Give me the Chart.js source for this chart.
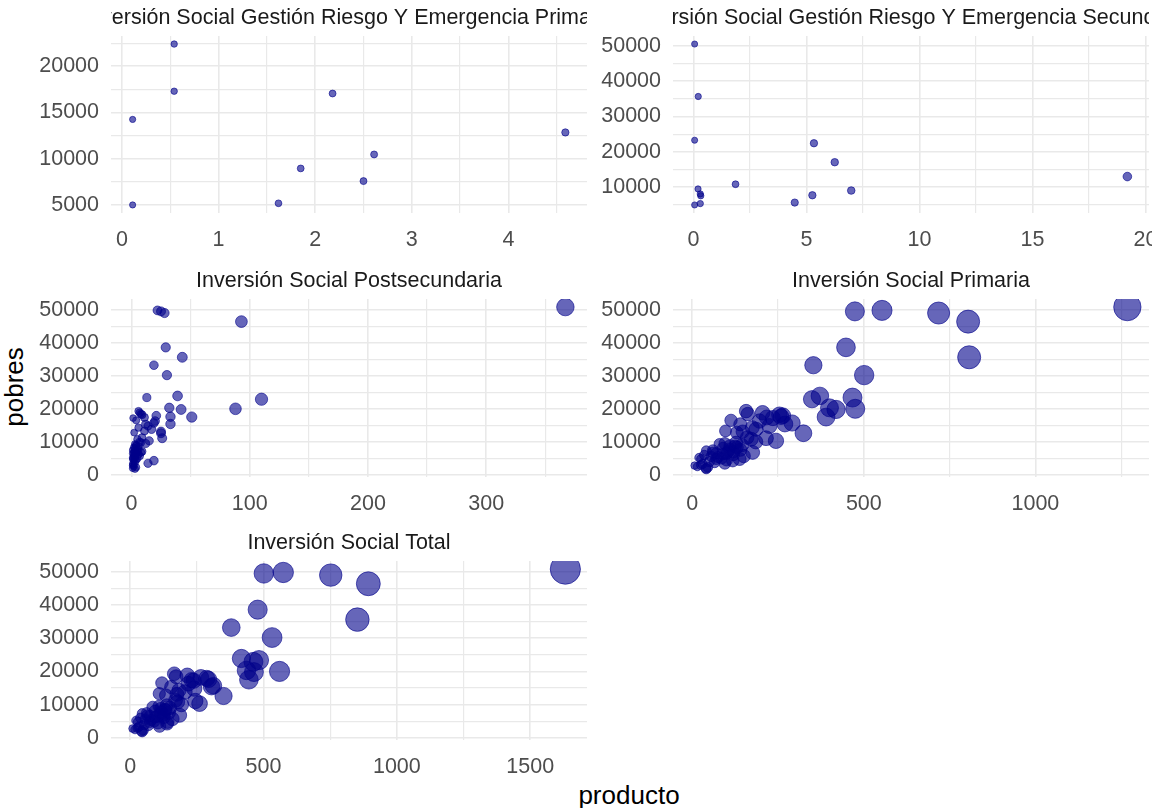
<!DOCTYPE html>
<html>
<head>
<meta charset="utf-8">
<script src="https://cdn.jsdelivr.net/npm/chart.js@4.4.0/dist/chart.umd.min.js"></script>
<style>
  body { margin: 0; background: #fff; width: 1152px; height: 808px; overflow: hidden; position: relative;
         font-family: "Liberation Sans", Arial, sans-serif; }
  canvas { position: absolute; }
  .axis-title { position: absolute; font-size: 26px; color: #000; white-space: nowrap;
                transform: translate(-50%, -50%); }
  #ytitle { left: 14px; top: 387px; transform: translate(-50%, -50%) rotate(-90deg); }
  #xtitle { left: 629px; top: 795px; }
</style>
</head>
<body>
<div class="axis-title" id="ytitle">pobres</div>
<div class="axis-title" id="xtitle">producto</div>
<script>
// Gestión Riesgo y Emergencia - Primaria
const gestionPrimX = [0.11, 0.11, 0.54, 0.54, 1.62, 1.85, 2.18, 2.50, 2.61, 4.59];
const gestionPrimY = [14250, 5000, 22400, 17300, 5180, 8950, 17050, 7580, 10460, 12840];

// Gestión Riesgo y Emergencia - Secundaria
const gestionSecX = [0.05, 0.21, 0.05, 1.86, 0.20, 0.30, 0.32, 0.30, 0.05, 4.48, 5.26, 5.33, 6.25, 6.98, 19.2];
const gestionSecY = [50570, 35680, 23270, 10770, 9430, 8010, 7500, 5280, 4890, 5570, 7640, 22410, 17020, 8980, 12950];

// pobres por municipio (mismo orden para postsecundaria, primaria y total)
const pobres = [50800, 49500, 49800, 49000, 46400, 38600, 35600, 33200, 30200, 23900, 23400, 22900, 20000, 19800, 20300, 17500, 12600,
  18800, 18200, 19300, 18400, 17900, 17400, 17200, 17600, 16500, 16300, 15700, 15400, 15300, 14800, 14300, 13800, 13300, 13100, 12800, 11300,
  11100, 10800, 10300,
  9800, 9500, 9300, 8800, 8300, 7800, 7500, 7300, 7000, 6800, 6800, 6500, 6300, 6000, 5700, 5400, 5200, 4800, 4800, 4800,
  4300, 4000, 3500, 3300, 2800, 2500, 2000, 1800,
  9000, 8600, 8100, 7600, 7100, 6600, 6200, 5600, 5000, 4500, 3800, 3000, 2300, 10000];

const postsecundaria = [367, 25, 22, 28, 93, 29, 43, 19, 30, 39, 13, 110, 88, 42, 32, 51, 25,
  7, 9, 6, 8, 21, 11, 1.4, 33, 4, 20, 19, 33, 12, 14, 6, 17, 11, 25, 2.3, 9,
  26, 5, 15,
  8, 12, 3, 4, 2, 6, 1, 3, 5, 8, 2, 1, 4, 2, 7, 3, 1, 2, 1, 3,
  19, 2, 14, 1, 1, 2, 1, 3,
  4, 6, 3, 5, 9, 4, 6, 2, 5, 4, 3, 2, 4, 7];

const primaria = [1268, 474, 553, 718, 804, 448, 807, 353, 501, 372, 467, 349, 475, 419, 400, 390, 324,
  205, 254, 157, 162, 264, 217, 235, 259, 113, 196, 291, 270, 140, 225, 175, 186, 97, 147, 130, 160,
  215, 172, 244,
  128, 95, 80, 110, 130, 109, 60, 41, 120, 176, 60, 100, 89, 35, 150, 75, 20, 26, 138, 70,
  118, 50, 95, 30, 7, 15, 40, 41,
  145, 125, 90, 140, 105, 70, 120, 55, 85, 100, 65, 25, 45, 185];

const total = [1632, 501, 574, 752, 893, 478, 852, 379, 532, 417, 483, 462, 560, 464, 436, 445, 350,
  214, 265, 165, 172, 287, 230, 238, 294, 119, 218, 312, 305, 154, 240, 183, 205, 109, 175, 134, 170,
  244, 178, 260,
  137, 108, 84, 115, 133, 116, 62, 45, 126, 185, 63, 102, 94, 38, 158, 79, 22, 29, 140, 74,
  138, 53, 110, 32, 9, 18, 42, 45,
  149, 131, 93, 145, 114, 74, 126, 57, 90, 104, 68, 27, 49, 192];

// tick labels
const gestionPrimXTicks = [0, 1, 2, 3, 4];
const gestionPrimYTicks = [5000, 10000, 15000, 20000];
const gestionSecXTicks = [0, 5, 10, 15, 20];
const gestionSecYTicks = [10000, 20000, 30000, 40000, 50000];
const postXTicks = [0, 100, 200, 300];
const primXTicks = [0, 500, 1000];
const totalXTicks = [0, 500, 1000, 1500];
const pobresTicks = [0, 10000, 20000, 30000, 40000, 50000];

const FONT = '"Liberation Sans", Arial, sans-serif';
const PAD_L = 100, PAD_T = 40, PAD_R = 30, PAD_B = 50;

// ggplot style 5% expansion of the data range
function expand(vals) {
  const lo = Math.min(...vals), hi = Math.max(...vals), d = (hi - lo) * 0.05;
  return [lo - d, hi + d];
}

// majors plus the minor lines half way between them
function gridValues(majors, lo, hi) {
  const step = majors[1] - majors[0];
  const out = [];
  for (let v = majors[0] - step / 2; v <= majors[majors.length - 1] + step / 2 + 1e-9; v += step / 2) {
    if (v >= lo && v <= hi) out.push(+v.toFixed(6));
  }
  return out;
}

function pointSize(x) {
  return 3 + 0.3 * Math.sqrt(Math.max(x, 0));
}

const stripTitle = {
  id: 'stripTitle',
  afterDraw(chart, args, opts) {
    const { ctx, chartArea: a } = chart;
    ctx.save();
    ctx.beginPath();
    ctx.rect(a.left, 0, a.right - a.left, a.top);
    ctx.clip();
    ctx.font = '21.5px ' + FONT;
    ctx.fillStyle = '#1A1A1A';
    ctx.textAlign = 'center';
    ctx.textBaseline = 'middle';
    ctx.fillText(opts.text, (a.left + a.right) / 2, a.top - 18);
    ctx.restore();
  }
};

function axis(majors, range, isX) {
  const grid = gridValues(majors, range[0], range[1]);
  const opts = {
    type: 'linear',
    min: range[0],
    max: range[1],
    border: { display: false },
    grid: {
      drawTicks: false,
      color: '#E9E9E9',
      lineWidth: c => majors.includes(c.tick.value) ? 1.6 : 1.2
    },
    ticks: {
      autoSkip: false,
      maxRotation: 0,
      padding: isX ? 14 : 12,
      color: '#4D4D4D',
      font: { size: 21.5, family: FONT },
      callback: v => majors.includes(v) ? String(v) : ''
    },
    afterBuildTicks: s => { s.ticks = grid.map(v => ({ value: v })); }
  };
  if (isX) opts.afterFit = s => { s.height = PAD_B; };
  else opts.afterFit = s => { s.width = PAD_L; };
  return opts;
}

function makePanel(p) {
  const [l, t, r, b] = p.box;
  const w = (r - l) + PAD_L + PAD_R, h = (b - t) + PAD_T + PAD_B;
  const canvas = document.createElement('canvas');
  canvas.width = w; canvas.height = h;
  canvas.style.left = (l - PAD_L) + 'px';
  canvas.style.top = (t - PAD_T) + 'px';
  canvas.style.width = w + 'px';
  canvas.style.height = h + 'px';
  document.body.appendChild(canvas);

  new Chart(canvas, {
    type: 'scatter',
    data: {
      datasets: [{
        data: p.x.map((x, i) => ({ x: x, y: p.y[i] })),
        pointRadius: p.x.map(pointSize),
        backgroundColor: 'rgba(0,0,139,0.6)',
        borderColor: 'rgba(0,0,139,0.6)',
        borderWidth: 1
      }]
    },
    options: {
      responsive: false,
      animation: false,
      events: [],
      layout: { padding: { left: 0, top: PAD_T, right: PAD_R, bottom: 0 } },
      scales: {
        x: axis(p.xTicks, expand(p.x), true),
        y: axis(p.yTicks, expand(p.y), false)
      },
      plugins: {
        legend: { display: false },
        tooltip: { enabled: false },
        stripTitle: { text: p.title }
      }
    },
    plugins: [stripTitle]
  });
}

const panels = [
  { title: 'Inversión Social Gestión Riesgo Y Emergencia Primaria', x: gestionPrimX, y: gestionPrimY,
    xTicks: gestionPrimXTicks, yTicks: gestionPrimYTicks, box: [111, 36, 587, 213] },
  { title: 'Inversión Social Gestión Riesgo Y Emergencia Secundaria', x: gestionSecX, y: gestionSecY,
    xTicks: gestionSecXTicks, yTicks: gestionSecYTicks, box: [673, 36, 1149, 213] },
  { title: 'Inversión Social Postsecundaria', x: postsecundaria, y: pobres,
    xTicks: postXTicks, yTicks: pobresTicks, box: [111, 299, 587, 477] },
  { title: 'Inversión Social Primaria', x: primaria, y: pobres,
    xTicks: primXTicks, yTicks: pobresTicks, box: [673, 299, 1149, 477] },
  { title: 'Inversión Social Total', x: total, y: pobres,
    xTicks: totalXTicks, yTicks: pobresTicks, box: [111, 561, 587, 740] }
];

panels.forEach(makePanel);
</script>
</body>
</html>
